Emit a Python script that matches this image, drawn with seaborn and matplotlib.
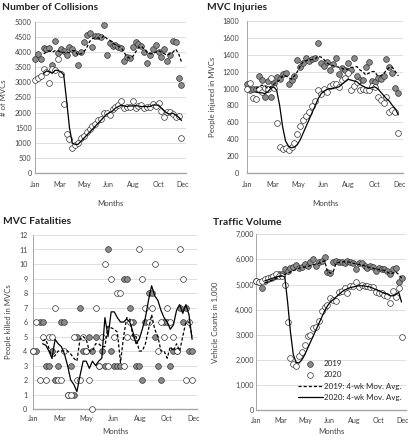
import numpy as np
import pandas as pd
import matplotlib.pyplot as plt
import seaborn as sns

# weekly observations, Jan-Dec (week index -> day of year)
weeks = np.arange(52)
days = weeks * 7
ma_days = days[3:]

month_ticks = [0, 60, 120, 180, 240, 300, 360]
month_labels = ['Jan', 'Mar', 'May', 'Jun', 'Aug', 'Oct', 'Dec']
legend_labels = ['2019', '2020', '2019: 4-wk Mov. Avg.', '2020: 4-wk Mov. Avg.']

# Number of collisions
col_2019 = [3790, 3930, 3790, 4150, 4100, 4150, 3570, 4360, 3960, 4100, 4050, 3900, 4180, 4090, 3960, 3570,
            4010, 4340, 4560, 4650, 4180, 4520, 4520, 4490, 4910, 3920, 4310, 4210, 4230, 4180, 4140, 3700,
            3840, 3810, 4180, 4340, 4280, 4220, 4010, 3640, 3900, 4090, 4230, 4010, 3840, 4120, 3700, 3920,
            4370, 4340, 3130, 2910]
col_2020 = [3080, 3130, 3200, 3450, 3340, 2990, 3430, 3400, 3790, 3270, 2270, 1290, 1140, 820, 920, 1000,
            1150, 1230, 1350, 1450, 1560, 1630, 1740, 1780, 1980, 1980, 1930, 2130, 2170, 2260, 2390, 2150,
            2170, 2170, 2370, 2150, 2230, 2260, 2150, 2180, 2180, 2270, 2230, 2310, 2060, 1840, 2010, 2030,
            1950, 1840, 1900, 1150]
col_ma19 = [3950, 4000, 4050, 4000, 4050, 4050, 4000, 4000, 3980, 4000, 4050, 4050, 3900, 3950, 4000, 4150,
            4350, 4450, 4480, 4470, 4450, 4550, 4450, 4400, 4300, 4250, 4200, 4150, 4000, 3850, 3800, 3850,
            4000, 4150, 4200, 4100, 4000, 3950, 3950, 4000, 4050, 4000, 3950, 3900, 3950, 4000, 4100, 3950, 3680]
col_ma20 = [3300, 3380, 3350, 3300, 3400, 3400, 3350, 3250, 2400, 1500, 980, 950, 950, 1050, 1150, 1250,
            1350, 1450, 1550, 1650, 1750, 1850, 1950, 2000, 2050, 2150, 2200, 2250, 2220, 2200, 2220, 2220,
            2230, 2220, 2200, 2200, 2200, 2200, 2250, 2250, 2250, 2150, 2050, 1980, 1950, 1980, 1920, 1850, 1740]

# MVC injuries
inj_2019 = [1050, 983, 990, 990, 1148, 1100, 904, 1093, 896, 1069, 1140, 1108, 1171, 1179, 1053, 1100,
            1148, 1336, 1258, 1297, 1356, 1329, 1344, 1356, 1533, 1297, 1266, 1317, 1219, 1285, 1356, 1171,
            1238, 1219, 1305, 1219, 1356, 1148, 1100, 1100, 1258, 1317, 1089, 1081, 1120, 1108, 1148, 1344,
            1258, 1187, 1002, 943]
inj_2020 = [990, 1070, 885, 880, 990, 960, 1010, 1000, 1130, 1010, 590, 315, 283, 300, 275, 310,
            362, 460, 558, 630, 676, 727, 794, 857, 983, 930, 990, 963, 1030, 1053, 1053, 1014,
            1100, 1120, 1187, 983, 1030, 1080, 983, 1000, 983, 983, 1030, 1022, 904, 865, 833, 904,
            727, 747, 720, 470]
inj_ma19 = [1000, 1020, 1040, 1030, 1000, 1020, 1050, 1080, 1100, 1150, 1150, 1130, 1110, 1150, 1200, 1270,
            1320, 1330, 1340, 1340, 1350, 1380, 1370, 1340, 1300, 1280, 1270, 1260, 1250, 1240, 1220, 1230,
            1250, 1250, 1260, 1220, 1200, 1160, 1180, 1200, 1200, 1150, 1150, 1170, 1220, 1250, 1250, 1200, 1150]
inj_ma20 = [960, 950, 950, 940, 960, 1000, 1020, 980, 800, 550, 380, 320, 300, 310, 340, 400,
            480, 560, 640, 720, 800, 880, 940, 970, 990, 1000, 1000, 1010, 1020, 1050, 1080, 1110,
            1100, 1090, 1080, 1050, 1030, 1010, 1000, 1010, 1020, 1000, 960, 920, 880, 850, 800, 760, 690]

# MVC fatalities
fat_2019 = [4, 4, 6, 6, 3, 3, 4, 2, 3, 6, 6, 1, 3, 1, 5, 7, 4, 4, 5, 4, 5, 3, 4, 3, 11, 4,
            3, 3, 3, 9, 9, 7, 6, 3, 3, 2, 6, 8, 8, 5, 3, 2, 6, 6, 3, 4, 4, 7, 6, 7, 4, 4]
fat_2020 = [4, 6, 2, 5, 2, 5, 5, 7, 2, 2, 4, 1, 1, 5, 2, 2, 5, 4, 2, 0, 7, 3, 5, 10, 3, 9,
            5, 8, 8, 3, 5, 6, 5, 5, 11, 9, 7, 6, 7, 10, 4, 6, 5, 7, 6, 5, 4, 11, 9, 2, 6, 2]
fat_ma19 = [4.7, 4.8, 4.2, 3.5, 3.7, 4.0, 4.0, 4.0, 4.0, 3.8, 3.5, 3.3, 4.8, 5.0, 4.8, 4.0,
            4.0, 4.5, 4.5, 4.3, 4.3, 5.7, 5.6, 5.5, 5.3, 3.2, 5.0, 6.3, 6.2, 5.0, 5.0, 4.0,
            4.0, 4.5, 5.5, 6.5, 5.5, 5.0, 4.0, 4.0, 3.5, 4.3, 4.0, 4.5, 4.0, 5.0, 6.0, 6.0, 5.0]
fat_ma20 = [4.5, 4.4, 4.0, 3.5, 4.8, 4.5, 4.3, 3.8, 3.0, 2.0, 1.7, 1.2, 2.3, 3.3, 3.3, 2.8,
            3.3, 3.0, 3.3, 3.5, 6.3, 5.0, 6.7, 6.7, 6.3, 6.0, 6.0, 6.2, 6.0, 5.3, 4.5, 4.8,
            5.5, 6.3, 7.5, 8.5, 7.8, 7.5, 6.8, 6.3, 6.0, 5.5, 5.8, 6.8, 7.2, 6.6, 7.2, 6.5, 4.8]

# Traffic volume (vehicle counts in 1,000)
trf_2019 = [5130, 5080, 4870, 5150, 5200, 5250, 5300, 5350, 5400, 5420, 5600, 5550, 5650, 5700, 5780, 5650,
            5700, 5800, 5750, 5900, 6000, 5750, 5900, 5950, 6100, 5500, 5450, 5900, 5950, 5900, 5900, 5850,
            5920, 5900, 5870, 5600, 5850, 5850, 5750, 5650, 5750, 5700, 5550, 5650, 5600, 5600, 5550, 5400,
            5600, 5650, 5100, 5250]
trf_2020 = [5150, 5100, 5150, 5200, 5250, 5300, 5350, 5400, 5350, 5350, 5000, 3500, 2080, 1820, 1760, 2150,
            2300, 2600, 2950, 3000, 3250, 3300, 3550, 3950, 4100, 4200, 4450, 4400, 4350, 4700, 4750, 4850,
            4650, 4950, 4950, 5100, 4900, 5000, 4950, 4950, 4900, 4900, 4700, 4650, 4650, 4600, 4550, 4250,
            4750, 4500, 4850, 2900]
trf_ma19 = [5080, 5100, 5150, 5200, 5250, 5300, 5350, 5400, 5450, 5500, 5550, 5600, 5650, 5680, 5700, 5720,
            5750, 5780, 5820, 5850, 5900, 5950, 5500, 5450, 5500, 5850, 5880, 5900, 5900, 5900, 5880, 5850,
            5820, 5800, 5780, 5750, 5700, 5680, 5650, 5620, 5600, 5580, 5560, 5500, 5420, 5450, 5500, 5400, 5250]
trf_ma20 = [5150, 5180, 5220, 5260, 5300, 5330, 5350, 5300, 4300, 3100, 2200, 1900, 1870, 2000, 2200, 2450,
            2700, 2950, 3200, 3450, 3700, 3950, 4150, 4300, 4400, 4500, 4600, 4700, 4780, 4830, 4880, 4900,
            4930, 4950, 4950, 4940, 4920, 4900, 4850, 4800, 4750, 4700, 4650, 4620, 4550, 4550, 4600, 4700, 4300]

sns.set_theme(style='white')
plt.rcParams['font.family'] = ['Lato', 'DejaVu Sans']

W, H = 408, 440
fig = plt.figure(figsize=(W / 100, H / 100), dpi=100)


def add_ax(l, t, r, b):
    return fig.add_axes([l / W, 1 - b / H, (r - l) / W, (b - t) / H])


def draw_panel(ax, y19, y20, ma19, ma20, ymax, ystep, ylabel, fmt, ypad, xpad, ylab_px, xlab_px, box, legend=False):
    l, t, r, b = box
    sns.scatterplot(x=days, y=y19, ax=ax, s=17, color='#8a8a8a', edgecolor='#333333', linewidth=0.5,
                    zorder=3, clip_on=False, label=legend_labels[0] if legend else None)
    sns.scatterplot(x=days, y=y20, ax=ax, s=17, color='white', edgecolor='#333333', linewidth=0.5,
                    zorder=3, clip_on=False, label=legend_labels[1] if legend else None)
    sns.lineplot(x=ma_days, y=ma19, ax=ax, color='black', linewidth=0.9, linestyle=(0, (2.5, 1.6)),
                 zorder=4, label=legend_labels[2] if legend else None)
    sns.lineplot(x=ma_days, y=ma20, ax=ax, color='black', linewidth=0.9,
                 zorder=4, label=legend_labels[3] if legend else None)

    ax.set_xlim(0, 368)
    ax.set_ylim(0, ymax)
    ax.set_xticks(month_ticks)
    ax.set_xticklabels(month_labels)
    yt = np.arange(0, ymax + ystep / 2, ystep)
    ax.set_yticks(yt)
    ax.set_yticklabels([fmt.format(v) for v in yt])
    ax.tick_params(axis='both', length=0, labelsize=5.1, colors='#404040')
    ax.tick_params(axis='y', pad=ypad)
    ax.tick_params(axis='x', pad=xpad)
    ax.set_axisbelow(True)
    ax.yaxis.grid(True, color='#d9d9d9', linewidth=0.6)
    ax.xaxis.grid(False)
    for s in ['top', 'right']:
        ax.spines[s].set_visible(False)
    ax.spines['left'].set_color('#a6a6a6')
    ax.spines['left'].set_linewidth(0.7)
    ax.spines['bottom'].set_color('#a6a6a6')
    ax.spines['bottom'].set_linewidth(1.0)

    ax.set_ylabel(ylabel, fontsize=5.6, color='#404040')
    ax.set_xlabel('Months', fontsize=5.6, color='#404040')
    ax.yaxis.set_label_coords((ylab_px - l) / (r - l), 0.5)
    ax.xaxis.set_label_coords(0.5, (b - xlab_px) / (b - t))
    if not legend and ax.get_legend() is not None:
        ax.get_legend().remove()


box_tl = (35, 22, 186, 173)
box_tr = (247, 20.7, 403, 173.3)
box_bl = (33.3, 235, 197, 409)
box_br = (256.3, 234.3, 406, 410)

ax1 = add_ax(*box_tl)
draw_panel(ax1, col_2019, col_2020, col_ma19, col_ma20, 5000, 500, '# of MVCs', '{:.0f}',
           2.4, 5.5, 7, 200, box_tl)
ax2 = add_ax(*box_tr)
draw_panel(ax2, inj_2019, inj_2020, inj_ma19, inj_ma20, 1800, 200, 'People injured in MVCs', '{:.0f}',
           5.5, 5.5, 216, 200, box_tr)
ax3 = add_ax(*box_bl)
draw_panel(ax3, fat_2019, fat_2020, fat_ma19, fat_ma20, 12, 1, 'People killed in MVCs', '{:.0f}',
           4.3, 4.0, 12, 428, box_bl)
ax4 = add_ax(*box_br)
draw_panel(ax4, trf_2019, trf_2020, trf_ma19, trf_ma20, 7000, 1000, 'Vehicle Counts in 1,000', '{:,.0f}',
           1.8, 5.0, 219, 428, box_br, legend=True)

ax4.legend(loc='upper left', bbox_to_anchor=(298 / W, 1 - 360 / H), bbox_transform=fig.transFigure,
           frameon=False, fontsize=5.7, handlelength=3.1, handletextpad=0.15, labelspacing=0.55,
           borderpad=0, borderaxespad=0, labelcolor='#222222')

title_kw = dict(fontsize=7.4, fontweight='bold', color='#222222', va='center', ha='left')
fig.text(2 / W, 1 - 7 / H, 'Number of Collisions', **title_kw)
fig.text(207 / W, 1 - 8 / H, 'MVC Injuries', **title_kw)
fig.text(3 / W, 1 - 221 / H, 'MVC Fatalities', **title_kw)
fig.text(213 / W, 1 - 222 / H, 'Traffic Volume', **title_kw)

fig.savefig('out.png', dpi=100)
